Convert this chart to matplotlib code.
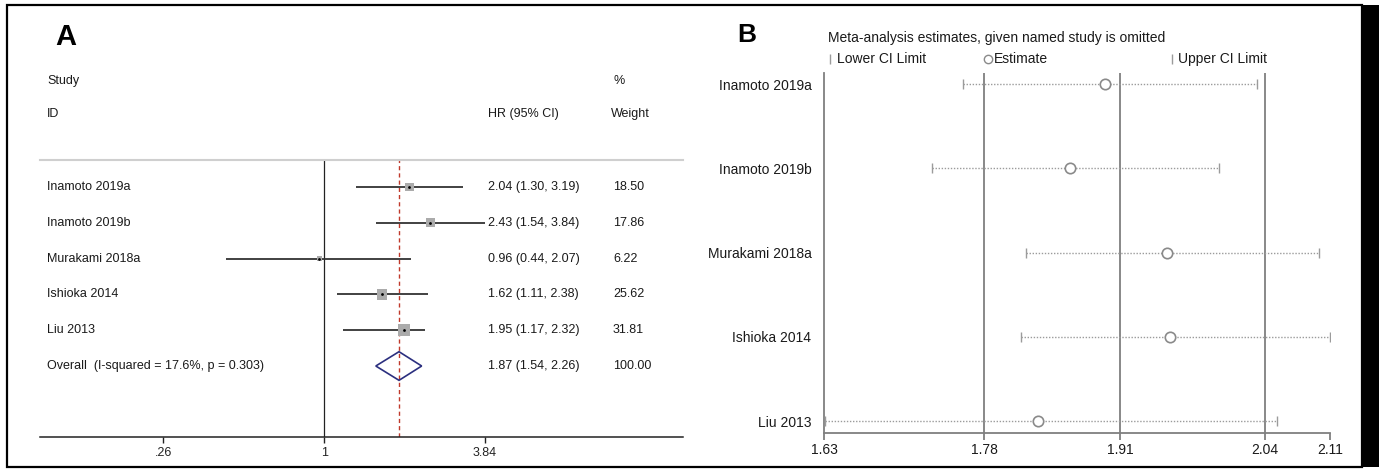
import matplotlib
matplotlib.use("Agg")
import matplotlib.pyplot as plt
import matplotlib.transforms as mtransforms
from matplotlib.lines import Line2D
from matplotlib.patches import Polygon, Rectangle
from matplotlib.ticker import NullLocator, FixedLocator, FixedFormatter
import numpy as np

plt.rcParams["font.family"] = ["Liberation Sans", "DejaVu Sans"]

# ---------------- Panel A data (forest plot) ----------------
studies_a = ["Inamoto 2019a", "Inamoto 2019b", "Murakami 2018a", "Ishioka 2014", "Liu 2013"]
hr = [2.04, 2.43, 0.96, 1.62, 1.95]
hr_lo = [1.30, 1.54, 0.44, 1.11, 1.17]
hr_hi = [3.19, 3.84, 2.07, 2.38, 2.32]
weights = [18.50, 17.86, 6.22, 25.62, 31.81]
overall_label = "Overall  (I-squared = 17.6%, p = 0.303)"
overall_hr = 1.87
overall_lo = 1.54
overall_hi = 2.26
overall_w = 100.00
xticks_a = [0.26, 1, 3.84]
xticklabels_a = [".26", "1", "3.84"]

# ---------------- Panel B data (influence analysis) ----------------
studies_b = ["Inamoto 2019a", "Inamoto 2019b", "Murakami 2018a", "Ishioka 2014", "Liu 2013"]
est_b = [1.897, 1.863, 1.955, 1.958, 1.833]
lo_b = [1.762, 1.732, 1.822, 1.817, 1.631]
hi_b = [2.041, 2.005, 2.100, 2.110, 2.060]
xticks_b = [1.63, 1.782, 1.911, 2.048, 2.11]
xticklabels_b = ["1.63", "1.78", "1.91", "2.04", "2.11"]

W, H = 1379, 472
fig = plt.figure(figsize=(W / 100, H / 100), dpi=100)


def rect(l, t, r, b):
    return [l / W, 1 - b / H, (r - l) / W, (b - t) / H]


def ptext(px, py, s, **kw):
    return fig.text(px / W, 1 - py / H, s, **kw)


# ================= Panel A =================
ax_a = fig.add_axes(rect(40, 160, 683, 437))
ax_a.set_xscale("log")
ax_a.set_xlim(0.0929, 20.1)
n = len(studies_a)
ax_a.set_ylim(n + 1.983, -0.754)
for s in ["left", "right"]:
    ax_a.spines[s].set_visible(False)
ax_a.spines["top"].set_color("#cfcfcf")
ax_a.spines["top"].set_linewidth(1.5)
ax_a.spines["bottom"].set_color("#222222")
ax_a.spines["bottom"].set_linewidth(1.1)
ax_a.xaxis.set_major_locator(FixedLocator(xticks_a))
ax_a.xaxis.set_major_formatter(FixedFormatter(xticklabels_a))
ax_a.xaxis.set_minor_locator(NullLocator())
ax_a.tick_params(axis="x", direction="out", length=4, width=1, colors="#222222",
                 labelsize=9, pad=3)
ax_a.set_yticks([])

ax_a.axvline(1, color="#222222", lw=0.9, zorder=1)
ax_a.axvline(overall_hr, color="#c0392b", lw=1.0, ls=(0, (3, 2.2)), zorder=2)

ya = np.arange(n)
ax_a.hlines(ya, hr_lo, hr_hi, color="#333333", lw=1.3, zorder=3)
side_pt = 2.05 * np.sqrt(np.array(weights)) * 0.72
ax_a.scatter(hr, ya, marker="s", s=side_pt ** 2, color="#ababab", lw=0, zorder=4)
ax_a.scatter(hr, ya, marker="o", s=4, color="black", lw=0, zorder=5)

yo = n
hh = 0.40
diamond = Polygon([(overall_lo, yo), (overall_hr, yo - hh), (overall_hi, yo),
                   (overall_hr, yo + hh)], closed=True, fill=False,
                  edgecolor="#2b2f7f", lw=1.2, zorder=4)
ax_a.add_patch(diamond)

blend_a = mtransforms.blended_transform_factory(mtransforms.IdentityTransform(), ax_a.transData)
fs_a = 9
txt_col = "#1a1a1a"
for i, name in enumerate(studies_a):
    ax_a.text(47, i, name, transform=blend_a, va="center", ha="left", fontsize=fs_a, color=txt_col)
    ax_a.text(488, i, f"{hr[i]:.2f} ({hr_lo[i]:.2f}, {hr_hi[i]:.2f})", transform=blend_a,
              va="center", ha="left", fontsize=fs_a, color=txt_col)
    ax_a.text(613, i, f"{weights[i]:.2f}", transform=blend_a, va="center", ha="left",
              fontsize=fs_a, color=txt_col)
ax_a.text(47, yo, overall_label, transform=blend_a, va="center", ha="left", fontsize=fs_a, color=txt_col)
ax_a.text(488, yo, f"{overall_hr:.2f} ({overall_lo:.2f}, {overall_hi:.2f})", transform=blend_a,
          va="center", ha="left", fontsize=fs_a, color=txt_col)
ax_a.text(613, yo, f"{overall_w:.2f}", transform=blend_a, va="center", ha="left",
          fontsize=fs_a, color=txt_col)

ptext(47, 81, "Study", va="center", ha="left", fontsize=fs_a, color=txt_col)
ptext(47, 114, "ID", va="center", ha="left", fontsize=fs_a, color=txt_col)
ptext(614, 81, "%", va="center", ha="left", fontsize=fs_a, color=txt_col)
ptext(488, 114, "HR (95% CI)", va="center", ha="left", fontsize=fs_a, color=txt_col)
ptext(611, 114, "Weight", va="center", ha="left", fontsize=fs_a, color=txt_col)

ptext(66, 37, "A", va="center", ha="center", fontsize=21, fontweight="bold", color="black")

# ================= Panel B =================
ax_b = fig.add_axes(rect(824, 73, 1330, 433))
ax_b.set_xlim(xticks_b[0], xticks_b[-1])
nb = len(studies_b)
yb = np.arange(1, nb + 1)
ax_b.set_ylim(nb + 0.1424, 0.8694)
for s in ["top", "right"]:
    ax_b.spines[s].set_visible(False)
gcol = "#7f7f7f"
for s in ["left", "bottom"]:
    ax_b.spines[s].set_color(gcol)
    ax_b.spines[s].set_linewidth(1.3)
ax_b.xaxis.set_major_locator(FixedLocator(xticks_b))
ax_b.xaxis.set_major_formatter(FixedFormatter(xticklabels_b))
ax_b.tick_params(axis="x", direction="out", length=5, width=1.3, color=gcol,
                 labelcolor="#1a1a1a", labelsize=10, pad=2)
ax_b.set_yticks(yb)
ax_b.set_yticklabels(studies_b)
ax_b.tick_params(axis="y", length=0, pad=9, labelsize=10, labelcolor="#1a1a1a")
for xv in xticks_b[1:4]:
    ax_b.axvline(xv, color=gcol, lw=1.3, zorder=1)

dcol = "#9b9b9b"
ax_b.hlines(yb, lo_b, hi_b, color=dcol, lw=1.0, linestyles=(0, (1, 1.2)), zorder=2)
ax_b.scatter(lo_b, yb, marker="|", s=60, color=dcol, lw=1.0, zorder=3)
ax_b.scatter(hi_b, yb, marker="|", s=60, color=dcol, lw=1.0, zorder=3)
ax_b.plot(est_b, yb, "o", mfc="white", mec="#8a8a8a", ms=7.5, mew=1.2, ls="none", zorder=4)

ptext(747, 35, "B", va="center", ha="center", fontsize=19, fontweight="bold", color="black")
ptext(828, 38, "Meta-analysis estimates, given named study is omitted", va="center", ha="left",
      fontsize=10, color=txt_col)

# legend row
ly = 1 - 59 / H
fig.add_artist(Line2D([830 / W], [ly], marker="|", ms=7, mew=1.0, color=dcol, ls="none",
                      transform=fig.transFigure))
ptext(837, 59, "Lower CI Limit", va="center", ha="left", fontsize=10, color=txt_col)
fig.add_artist(Line2D([988 / W], [ly], marker="o", ms=6, mew=1.0, mfc="white", mec="#8a8a8a",
                      ls="none", transform=fig.transFigure))
ptext(994, 59, "Estimate", va="center", ha="left", fontsize=10, color=txt_col)
fig.add_artist(Line2D([1172 / W], [ly], marker="|", ms=7, mew=1.0, color=dcol, ls="none",
                      transform=fig.transFigure))
ptext(1178, 59, "Upper CI Limit", va="center", ha="left", fontsize=10, color=txt_col)

# outer frame
fig.add_artist(Rectangle((7 / W, 1 - 467 / H), (1362 - 7) / W, (467 - 5) / H, fill=False,
                         lw=1.6, ec="black", transform=fig.transFigure))
fig.add_artist(Rectangle((1362 / W, 1 - 467 / H), (W - 1362) / W, (467 - 5) / H, fill=True,
                         lw=0, fc="black", transform=fig.transFigure))

fig.savefig("out.png", dpi=100)
